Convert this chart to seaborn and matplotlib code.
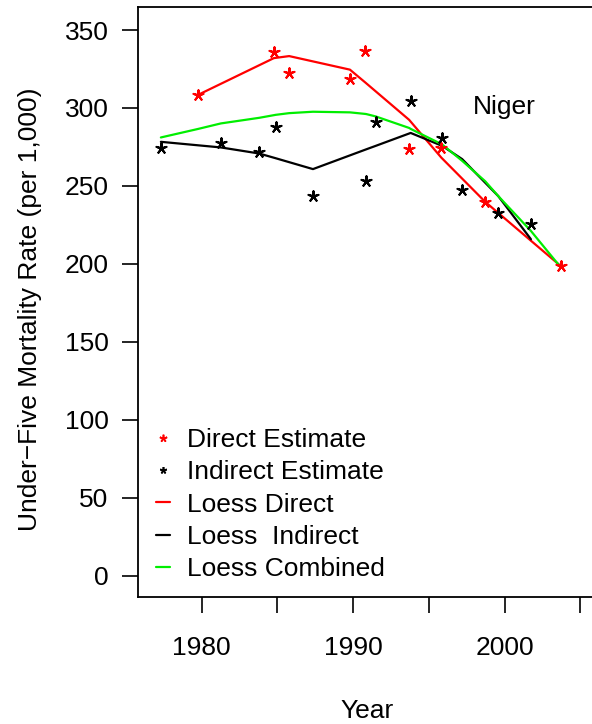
import numpy as np
import pandas as pd
import matplotlib
matplotlib.use("Agg")
import matplotlib.pyplot as plt
from matplotlib.lines import Line2D
import seaborn as sns

# ---- data ----
direct_year = [1979.78, 1984.77, 1985.78, 1989.79, 1990.80, 1993.70, 1995.82, 1998.72, 2003.72]
direct_rate = [308.5, 335.7, 322.4, 318.6, 336.3, 273.6, 274.4, 239.8, 198.7]

indirect_year = [1977.31, 1981.27, 1983.80, 1984.88, 1987.35, 1990.87, 1991.49,
                 1993.80, 1995.88, 1997.20, 1999.58, 2001.74]
indirect_rate = [274.5, 277.5, 271.9, 287.7, 243.6, 253.2, 290.7,
                 304.6, 280.5, 247.5, 232.9, 225.4]

loess_direct = [308.5, 332.0, 333.3, 324.6, 316.4, 292.4, 268.2, 239.8, 198.5]
loess_indirect = [278.3, 274.7, 270.8, 267.8, 260.8, 273.5, 275.7,
                  284.0, 275.7, 267.2, 243.5, 215.8]

combined_year = [1977.31, 1979.78, 1981.27, 1983.80, 1984.77, 1984.88, 1985.78,
                 1987.35, 1989.79, 1990.80, 1990.87, 1991.49, 1993.70, 1993.80,
                 1995.82, 1995.88, 1997.20, 1998.72, 1999.58, 2001.74, 2003.72]
loess_combined = [281.1, 286.6, 290.1, 293.7, 295.4, 295.6, 296.7,
                  297.6, 297.2, 296.2, 296.1, 294.6, 287.2, 286.6,
                  276.9, 276.6, 266.1, 253.0, 243.5, 221.1, 197.6]

y_ticks = [0, 50, 100, 150, 200, 250, 300, 350]
x_ticks = [1980, 1985, 1990, 1995, 2000, 2005]
x_ticklabels = ["1980", "", "1990", "", "2000", ""]

legend_labels = ["Direct Estimate", "Indirect Estimate", "Loess Direct",
                 "Loess  Indirect", "Loess Combined"]

# ---- style ----
sns.set_style("ticks")
plt.rcParams["font.family"] = ["Liberation Sans", "DejaVu Sans"]
plt.rcParams["text.color"] = "black"
plt.rcParams["axes.labelcolor"] = "black"
plt.rcParams["xtick.color"] = "black"
plt.rcParams["ytick.color"] = "black"
FS = 19

W, H = 592, 724
fig = plt.figure(figsize=(W / 100, H / 100), dpi=100)
L, R, T, B = 138.3, 597.0, 7.3, 597.3
ax = fig.add_axes([L / W, 1 - B / H, (R - L) / W, (B - T) / H])

red = "#ff0000"
green = "#00ee00"
black = "#000000"

df_d = pd.DataFrame({"year": direct_year, "rate": direct_rate, "fit": loess_direct})
df_i = pd.DataFrame({"year": indirect_year, "rate": indirect_rate, "fit": loess_indirect})
df_c = pd.DataFrame({"year": combined_year, "fit": loess_combined})

star = (5, 2, 0)
sns.scatterplot(data=df_d, x="year", y="rate", ax=ax, marker=star, s=55,
                color=red, edgecolor=red, linewidth=1.5, legend=False, zorder=3)
sns.scatterplot(data=df_i, x="year", y="rate", ax=ax, marker=star, s=55,
                color=black, edgecolor=black, linewidth=1.5, legend=False, zorder=3)
sns.lineplot(data=df_d, x="year", y="fit", ax=ax, color=red, lw=1.6,
             sort=False, estimator=None, legend=False)
sns.lineplot(data=df_i, x="year", y="fit", ax=ax, color=black, lw=1.6,
             sort=False, estimator=None, legend=False)
sns.lineplot(data=df_c, x="year", y="fit", ax=ax, color=green, lw=1.6,
             sort=False, estimator=None, legend=False)

ax.set_xlim(1975.82, 2006.1)
ax.set_ylim(-13.9, 364.6)
ax.set_xticks(x_ticks)
ax.set_xticklabels(x_ticklabels)
ax.set_yticks(y_ticks)
ax.set_yticklabels([str(v) for v in y_ticks])
ax.tick_params(axis="both", direction="out", length=11.5, width=1.2,
               labelsize=FS, colors="black")
ax.tick_params(axis="x", pad=16.5)
ax.tick_params(axis="y", pad=10)
for sp in ax.spines.values():
    sp.set_visible(True)
    sp.set_linewidth(1.3)
    sp.set_color("black")
ax.set_xlabel("")
ax.set_ylabel("")

ax.text(2000.0, 296, "Niger", ha="center", va="baseline", fontsize=FS)

fig.text(30 / W, 1 - 309 / H, "Under\u2212Five Mortality Rate (per 1,000)",
         rotation=90, ha="center", va="center", fontsize=FS)
fig.text(367.5 / W, 1 - 718.5 / H, "Year", ha="center", va="baseline", fontsize=FS)

handles = [
    Line2D([], [], ls="none", marker=star, ms=5.5, mew=1.2, color=red),
    Line2D([], [], ls="none", marker=star, ms=5, mew=1.2, color=black),
    Line2D([], [], color=red, lw=1.6),
    Line2D([], [], color=black, lw=1.6),
    Line2D([], [], color=green, lw=1.6),
]
ax.legend(handles, legend_labels, loc="upper left",
          bbox_to_anchor=((156 - L) / (R - L), (B - 428) / (B - T)),
          frameon=False, fontsize=FS, handlelength=0.53, handletextpad=0.65,
          labelspacing=0.315, borderpad=0, borderaxespad=0)

fig.savefig("out.png", dpi=100)
